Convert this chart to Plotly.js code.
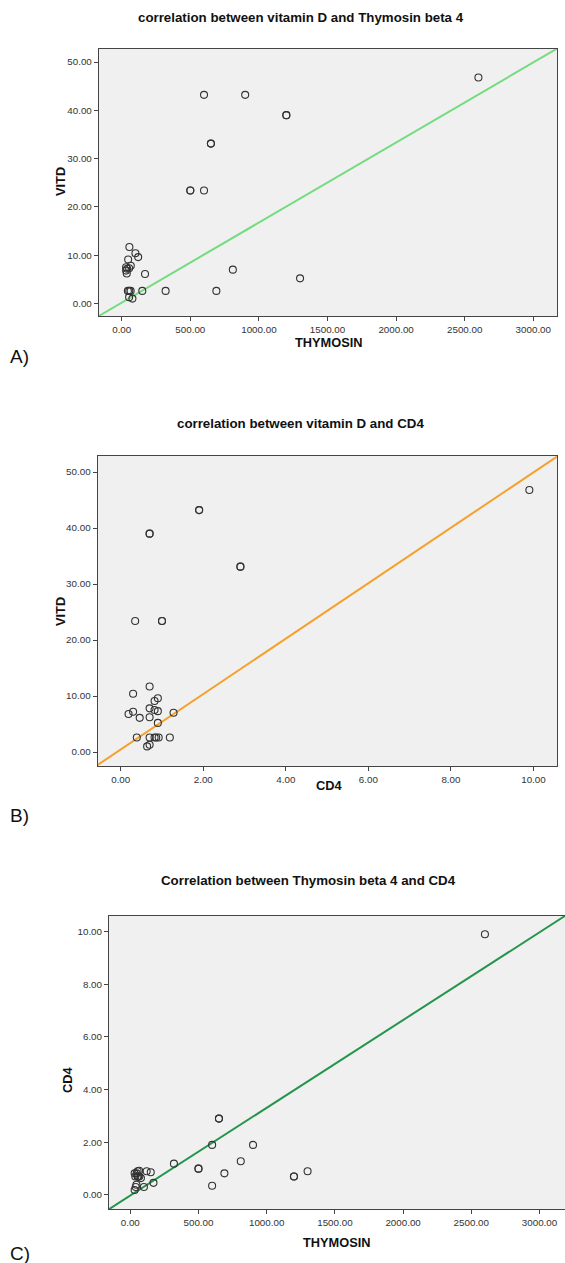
<!DOCTYPE html>
<html>
<head>
<meta charset="utf-8">
<script src="https://cdn.plot.ly/plotly-3.0.1.min.js"></script>
<style>
html,body{margin:0;padding:0;background:#fff;}
#chart{width:565px;height:1263px;}
</style>
</head>
<body>
<div id="chart"></div>
<script>
// Per-subject values
var thymosin = [2600, 600, 900, 1200, 1200, 650, 650, 500, 500, 600, 810, 1300, 690, 320, 150, 170, 120, 100,
                56, 47, 66, 32, 54, 40, 32, 37, 45, 55, 65, 54, 78];
var vitd     = [46.8, 43.2, 43.2, 39.0, 39.0, 33.1, 33.1, 23.4, 23.4, 23.4, 7.0, 5.2, 2.6, 2.6, 2.6, 6.1, 9.6, 10.4,
                11.7, 9.1, 7.8, 7.5, 7.3, 7.2, 6.8, 6.2, 2.6, 2.6, 2.6, 1.3, 1.0];
var cd4      = [9.9, 1.9, 1.9, 0.7, 0.7, 2.9, 2.9, 1.0, 1.0, 0.35, 1.28, 0.9, 0.82, 1.19, 0.86, 0.46, 0.9, 0.3,
                0.70, 0.82, 0.70, 0.82, 0.90, 0.30, 0.19, 0.70, 0.39, 0.70, 0.92, 0.70, 0.64];

// Fit lines as drawn (intercept, slope)
var fitA = [0.17, 0.01658];   // VITD ~ THYMOSIN
var fitB = [0.45, 4.95];      // VITD ~ CD4
var fitC = [-0.02, 0.00333];  // CD4 ~ THYMOSIN

// Texts
var titles = ["correlation between vitamin D and Thymosin beta 4",
              "correlation between vitamin D and CD4",
              "Correlation between Thymosin beta 4 and CD4"];
var xTitles = ["THYMOSIN", "CD4", "THYMOSIN"];
var yTitles = ["VITD", "VITD", "CD4"];
var panelLabels = ["A)", "B)", "C)"];

// Axis ranges
var rangeA = {x: [-167, 3175], y: [-2.6, 52.8]};
var rangeB = {x: [-0.56, 10.57], y: [-2.5, 52.9]};
var rangeC = {x: [-156, 3187], y: [-0.54, 10.59]};

var H = 1263, W = 565;
function py(p){ return 1 - p / H; }
function px(p){ return p / W; }

function lineTrace(fit, rng, xa, ya, color){
  var xs = [rng.x[0], rng.x[1]];
  return {x: xs, y: xs.map(function(v){ return fit[0] + fit[1]*v; }),
          xaxis: xa, yaxis: ya, mode: 'lines', type: 'scatter',
          line: {color: color, width: 2}, hoverinfo: 'skip', showlegend: false};
}
function ptTrace(xs, ys, xa, ya){
  return {x: xs, y: ys, xaxis: xa, yaxis: ya, mode: 'markers', type: 'scatter',
          marker: {symbol: 'circle-open', size: 7, color: '#333', line: {width: 1.1}},
          showlegend: false};
}

var data = [
  lineTrace(fitA, rangeA, 'x', 'y', '#72dc7e'),
  ptTrace(thymosin, vitd, 'x', 'y'),
  lineTrace(fitB, rangeB, 'x2', 'y2', '#f6a02c'),
  ptTrace(cd4, vitd, 'x2', 'y2'),
  lineTrace(fitC, rangeC, 'x3', 'y3', '#25954c'),
  ptTrace(thymosin, cd4, 'x3', 'y3')
];

var tickFont = {family: 'Liberation Sans, Arial, sans-serif', size: 9.8, color: '#333'};
function axis(domain, range, dtick, anchor){
  return {domain: domain, range: range, dtick: dtick, tick0: 0, tickformat: '.2f',
          anchor: anchor, showgrid: false, zeroline: false, showline: true, mirror: true,
          linecolor: '#444', linewidth: 1, ticks: 'outside', ticklen: 4, tickcolor: '#444',
          tickfont: tickFont, fixedrange: true};
}

var titleFont = {family: 'Liberation Sans, Arial, sans-serif', size: 13.3, color: '#111', weight: 'bold'};
var bold = {family: 'Liberation Sans, Arial, sans-serif', size: 12.8, color: '#111', weight: 'bold'};
function ann(text, x, y, opts){
  var a = {text: text, x: px(x), y: py(y), xref: 'paper', yref: 'paper', showarrow: false,
           xanchor: 'center', yanchor: 'middle', font: bold};
  for (var k in opts) a[k] = opts[k];
  return a;
}
var labelFont = {family: 'Liberation Sans, Arial, sans-serif', size: 19, color: '#111'};

var annotations = [
  ann(titles[0], 301, 17, {font: titleFont}),
  ann(xTitles[0], 329, 343),
  ann(yTitles[0], 60, 182, {textangle: -90}),
  ann(panelLabels[0], 8, 356, {xanchor: 'left', font: labelFont}),

  ann(titles[1], 300, 424, {font: titleFont}),
  ann(xTitles[1], 329, 785),
  ann(yTitles[1], 60, 612, {textangle: -90}),
  ann(panelLabels[1], 8, 815, {xanchor: 'left', font: labelFont}),

  ann(titles[2], 308, 881, {font: titleFont}),
  ann(xTitles[2], 337, 1242),
  ann(yTitles[2], 67, 1080, {textangle: -90}),
  ann(panelLabels[2], 8, 1253, {xanchor: 'left', font: labelFont})
];

var layout = {
  width: W, height: H,
  margin: {l: 0, r: 0, t: 0, b: 0},
  paper_bgcolor: '#fff', plot_bgcolor: '#f0f0f0',
  showlegend: false,
  xaxis:  axis([px(98.8), px(557.3)], rangeA.x, 500, 'y'),
  yaxis:  axis([py(316), py(48.5)], rangeA.y, 10, 'x'),
  xaxis2: axis([px(97.6), px(557)], rangeB.x, 2, 'y2'),
  yaxis2: axis([py(766), py(455.8)], rangeB.y, 10, 'x2'),
  xaxis3: axis([px(109), px(565)], rangeC.x, 500, 'y3'),
  yaxis3: axis([py(1209.2), py(916)], rangeC.y, 2, 'x3'),
  annotations: annotations
};

Plotly.newPlot('chart', data, layout, {staticPlot: true, displayModeBar: false});
</script>
</body>
</html>
